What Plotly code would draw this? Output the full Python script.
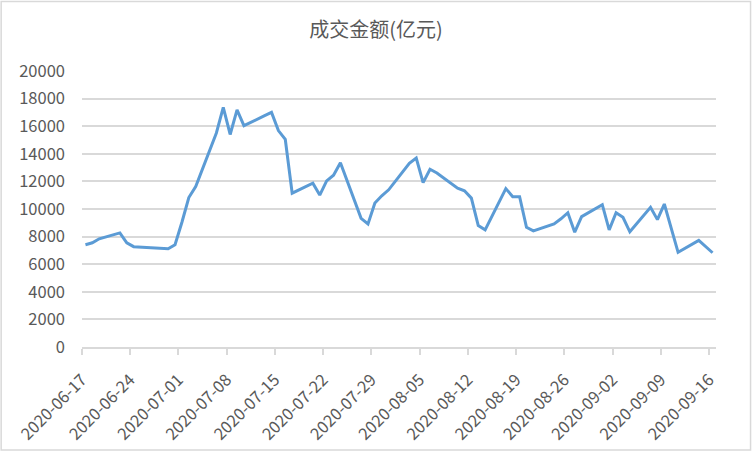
import plotly.graph_objects as go

dates = ["2020-06-17", "2020-06-18", "2020-06-19", "2020-06-22", "2020-06-23", "2020-06-24",
         "2020-06-29", "2020-06-30", "2020-07-01", "2020-07-02", "2020-07-03", "2020-07-06",
         "2020-07-07", "2020-07-08", "2020-07-09", "2020-07-10", "2020-07-13", "2020-07-14",
         "2020-07-15", "2020-07-16", "2020-07-17", "2020-07-20", "2020-07-21", "2020-07-22",
         "2020-07-23", "2020-07-24", "2020-07-27", "2020-07-28", "2020-07-29", "2020-07-30",
         "2020-07-31", "2020-08-03", "2020-08-04", "2020-08-05", "2020-08-06", "2020-08-07",
         "2020-08-10", "2020-08-11", "2020-08-12", "2020-08-13", "2020-08-14", "2020-08-17",
         "2020-08-18", "2020-08-19", "2020-08-20", "2020-08-21", "2020-08-24", "2020-08-25",
         "2020-08-26", "2020-08-27", "2020-08-28", "2020-08-31", "2020-09-01", "2020-09-02",
         "2020-09-03", "2020-09-04", "2020-09-07", "2020-09-08", "2020-09-09", "2020-09-10",
         "2020-09-11", "2020-09-14", "2020-09-15", "2020-09-16"]

amounts = [7410, 7550, 7840, 8270, 7550, 7270,
           7120, 7410, 9040, 10830, 11630, 15510,
           17360, 15400, 17190, 16040, 16760, 17000,
           15680, 15040, 11150, 11870, 11010, 12040,
           12450, 13350, 9320, 8920, 10430, 10960,
           11390, 13310, 13690, 11910, 12880, 12610,
           11510, 11320, 10790, 8800, 8490, 11480,
           10890, 10890, 8680, 8420, 8920, 9290,
           9730, 8320, 9450, 10310, 8490, 9730,
           9400, 8350, 10120, 9230, 10360, 8650,
           6860, 7720, 7290, 6830]

tick_dates = ["2020-06-17", "2020-06-24", "2020-07-01", "2020-07-08", "2020-07-15",
              "2020-07-22", "2020-07-29", "2020-08-05", "2020-08-12", "2020-08-19",
              "2020-08-26", "2020-09-02", "2020-09-09", "2020-09-16"]
y_ticks = list(range(0, 20001, 2000))
y_tick_labels = [str(v) for v in y_ticks]

title_text = "成交金额(亿元)"

# points sit in the middle of each day slot (Excel date axis)
x_vals = [d + " 12:00" for d in dates]

fig = go.Figure()
fig.add_trace(go.Scatter(
    x=x_vals, y=amounts, mode="lines",
    line=dict(color="#5B9BD5", width=3),
    hoverinfo="x+y", showlegend=False,
))

grid = "#D9D9D9"
txt = "#595959"
fam = "Noto Sans CJK SC"

fig.update_layout(
    width=752, height=452,
    margin=dict(l=82, r=36, t=71, b=105, autoexpand=False),
    paper_bgcolor="white", plot_bgcolor="white",
    title=dict(text=title_text, x=0.5, xref="container", xanchor="center",
               y=0.934, yref="container", yanchor="middle",
               font=dict(family=fam, size=20, color=txt)),
    font=dict(family=fam, color=txt, size=16),
)

fig.update_xaxes(
    type="date",
    range=["2020-06-17", "2020-09-17"],
    tickvals=tick_dates, ticktext=tick_dates,
    tickangle=-45,
    showgrid=False,
    showline=True, linecolor=grid, linewidth=1.5,
    ticks="outside", ticklen=6, tickcolor=grid, tickwidth=1.5,
    ticklabelstandoff=9,
    tickfont=dict(family=fam, size=16.5, color=txt),
    zeroline=False, automargin=False,
)

fig.update_yaxes(
    range=[0, 20000],
    tickvals=y_ticks, ticktext=y_tick_labels,
    showgrid=True, gridcolor=grid, gridwidth=1.5,
    showline=False, zeroline=False,
    ticks="", ticklabelstandoff=16,
    tickfont=dict(family=fam, size=16.5, color=txt),
    automargin=False,
)

# chart-area border
fig.add_shape(type="rect", xref="paper", yref="paper",
              x0=-0.1275, x1=1.0545, y0=-0.3735, y1=1.2515,
              line=dict(color=grid, width=1.5), fillcolor="rgba(0,0,0,0)", layer="below")

fig.write_html("out.html",
               config={"displayModeBar": False},
               post_script="document.body.style.margin='0';document.body.style.overflow='hidden';")
